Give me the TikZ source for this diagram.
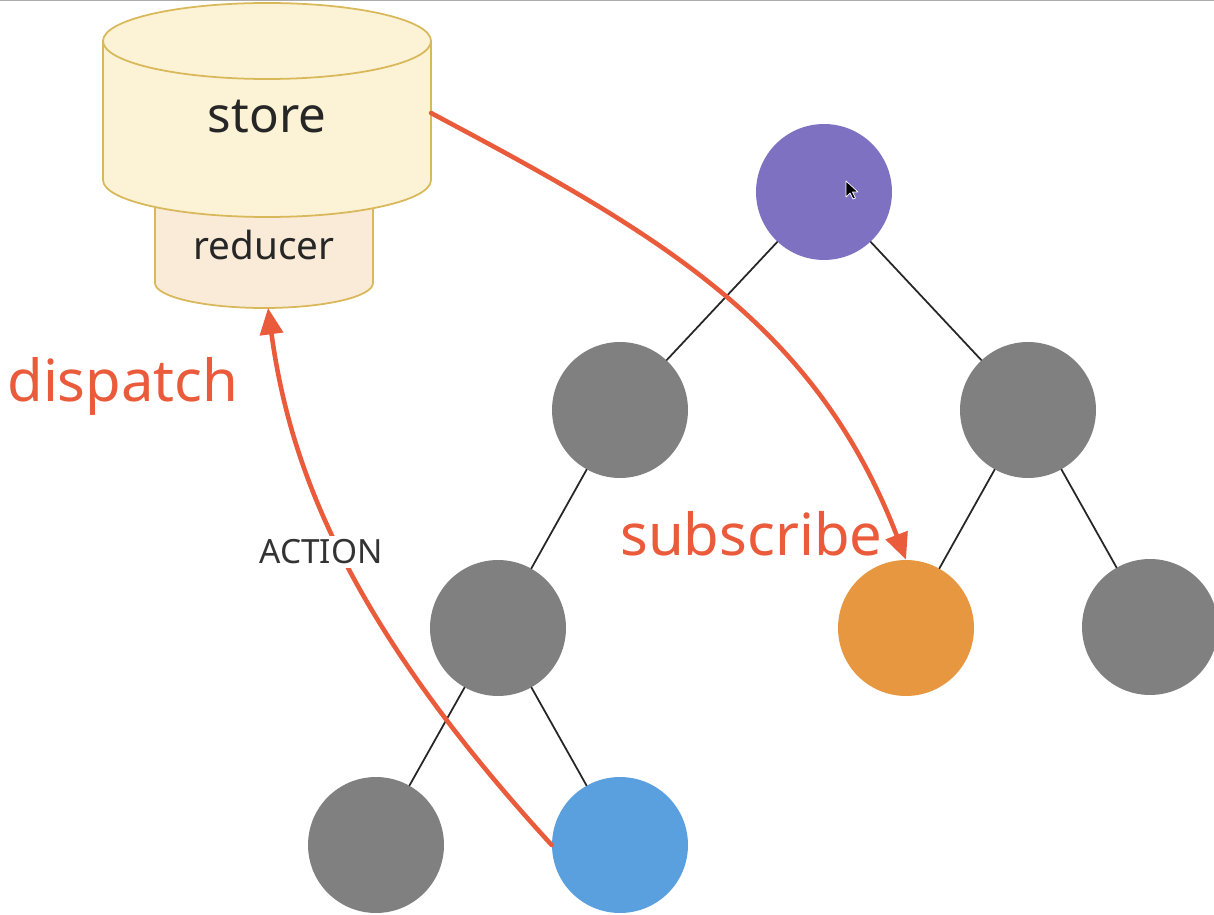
\documentclass[tikz,border=0pt]{standalone}
\usepackage{fontspec}
\setmainfont{Noto Sans}
\usetikzlibrary{arrows.meta}
\definecolor{flowred}{HTML}{EA5B3B}
\definecolor{storefill}{HTML}{FCF2D6}
\definecolor{reducerfill}{HTML}{FAEAD8}
\definecolor{cylline}{HTML}{D9B85A}
\definecolor{compgray}{HTML}{808080}
\definecolor{comppurple}{HTML}{7F71C1}
\definecolor{comporange}{HTML}{E6973F}
\definecolor{compblue}{HTML}{5AA0DF}
\begin{document}
\begin{tikzpicture}[x=0.02cm,y=0.02cm,line cap=round,line join=round,
  comp/.style={circle,minimum size=2.72cm,inner sep=0pt},
  treeedge/.style={line width=1pt,black!85},
  flow/.style={line width=2.6pt,flowred,-{Triangle[length=15pt,width=13pt]}},
  flowlabel/.style={flowred,font=\fontsize{33}{37}\selectfont,inner sep=0pt}]
  \useasboundingbox (0,0) rectangle (1214,914);
  \fill[gray!65] (0,912.6) rectangle (1214,914);

  \draw[line width=1pt,draw=cylline,fill=reducerfill] (155,760) -- (155,631)
    arc[start angle=180,end angle=360,x radius=109,y radius=25] -- (373,760) -- cycle;
  \draw[line width=1pt,draw=cylline,fill=storefill] (103,873) -- (103,734)
    arc[start angle=180,end angle=360,x radius=164,y radius=37] -- (431,873)
    arc[start angle=0,end angle=180,x radius=164,y radius=38] -- cycle;
  \draw[line width=1pt,draw=cylline] (103,873)
    arc[start angle=180,end angle=360,x radius=164,y radius=38];
  \node[text=black!85] (store) at (267,797) {\fontsize{28}{32}\selectfont store};
  \node[text=black!85] (reducer) at (264,669) {\fontsize{22}{26}\selectfont reducer};
  \coordinate (storeport) at (431,801);
  \coordinate (reducerport) at (268,606);

  \node[comp,fill=comppurple] (root) at (824,722) {};
  \node[comp,fill=compgray] (l1) at (620,504) {};
  \node[comp,fill=compgray] (r1) at (1028,504) {};
  \node[comp,fill=compgray] (l2) at (498,286) {};
  \node[comp,fill=comporange] (sub) at (906,286) {};
  \node[comp,fill=compgray] (r2) at (1150,287) {};
  \node[comp,fill=compgray] (l3) at (376,69) {};
  \node[comp,fill=compblue] (src) at (620,69) {};
  \draw[treeedge] (root) -- (l1);
  \draw[treeedge] (root) -- (r1);
  \draw[treeedge] (l1) -- (l2);
  \draw[treeedge] (r1) -- (sub);
  \draw[treeedge] (r1) -- (r2);
  \draw[treeedge] (l2) -- (l3);
  \draw[treeedge] (l2) -- (src);

  \draw[flow] (storeport) to[out=-28,in=111] (sub.north);
  \draw[flow] (src.west) .. controls (350,289) and (290,444) .. (reducerport);
  \node[fill=white,inner sep=2pt,text=black!80] (action) at (321,362) {\fontsize{19}{22}\selectfont ACTION};
  \node[flowlabel,anchor=base west] (dispatch) at (7,512) {dispatch};
  \node[flowlabel,anchor=base west] (subscribe) at (620,359) {subscribe};

  \filldraw[fill=black,draw=white,line width=0.4pt] (846,733) -- ++(0,-16) -- ++(4,4)
    -- ++(3,-6) -- ++(2.5,1) -- ++(-3,6) -- ++(5.5,0) -- cycle;
\end{tikzpicture}
\end{document}
